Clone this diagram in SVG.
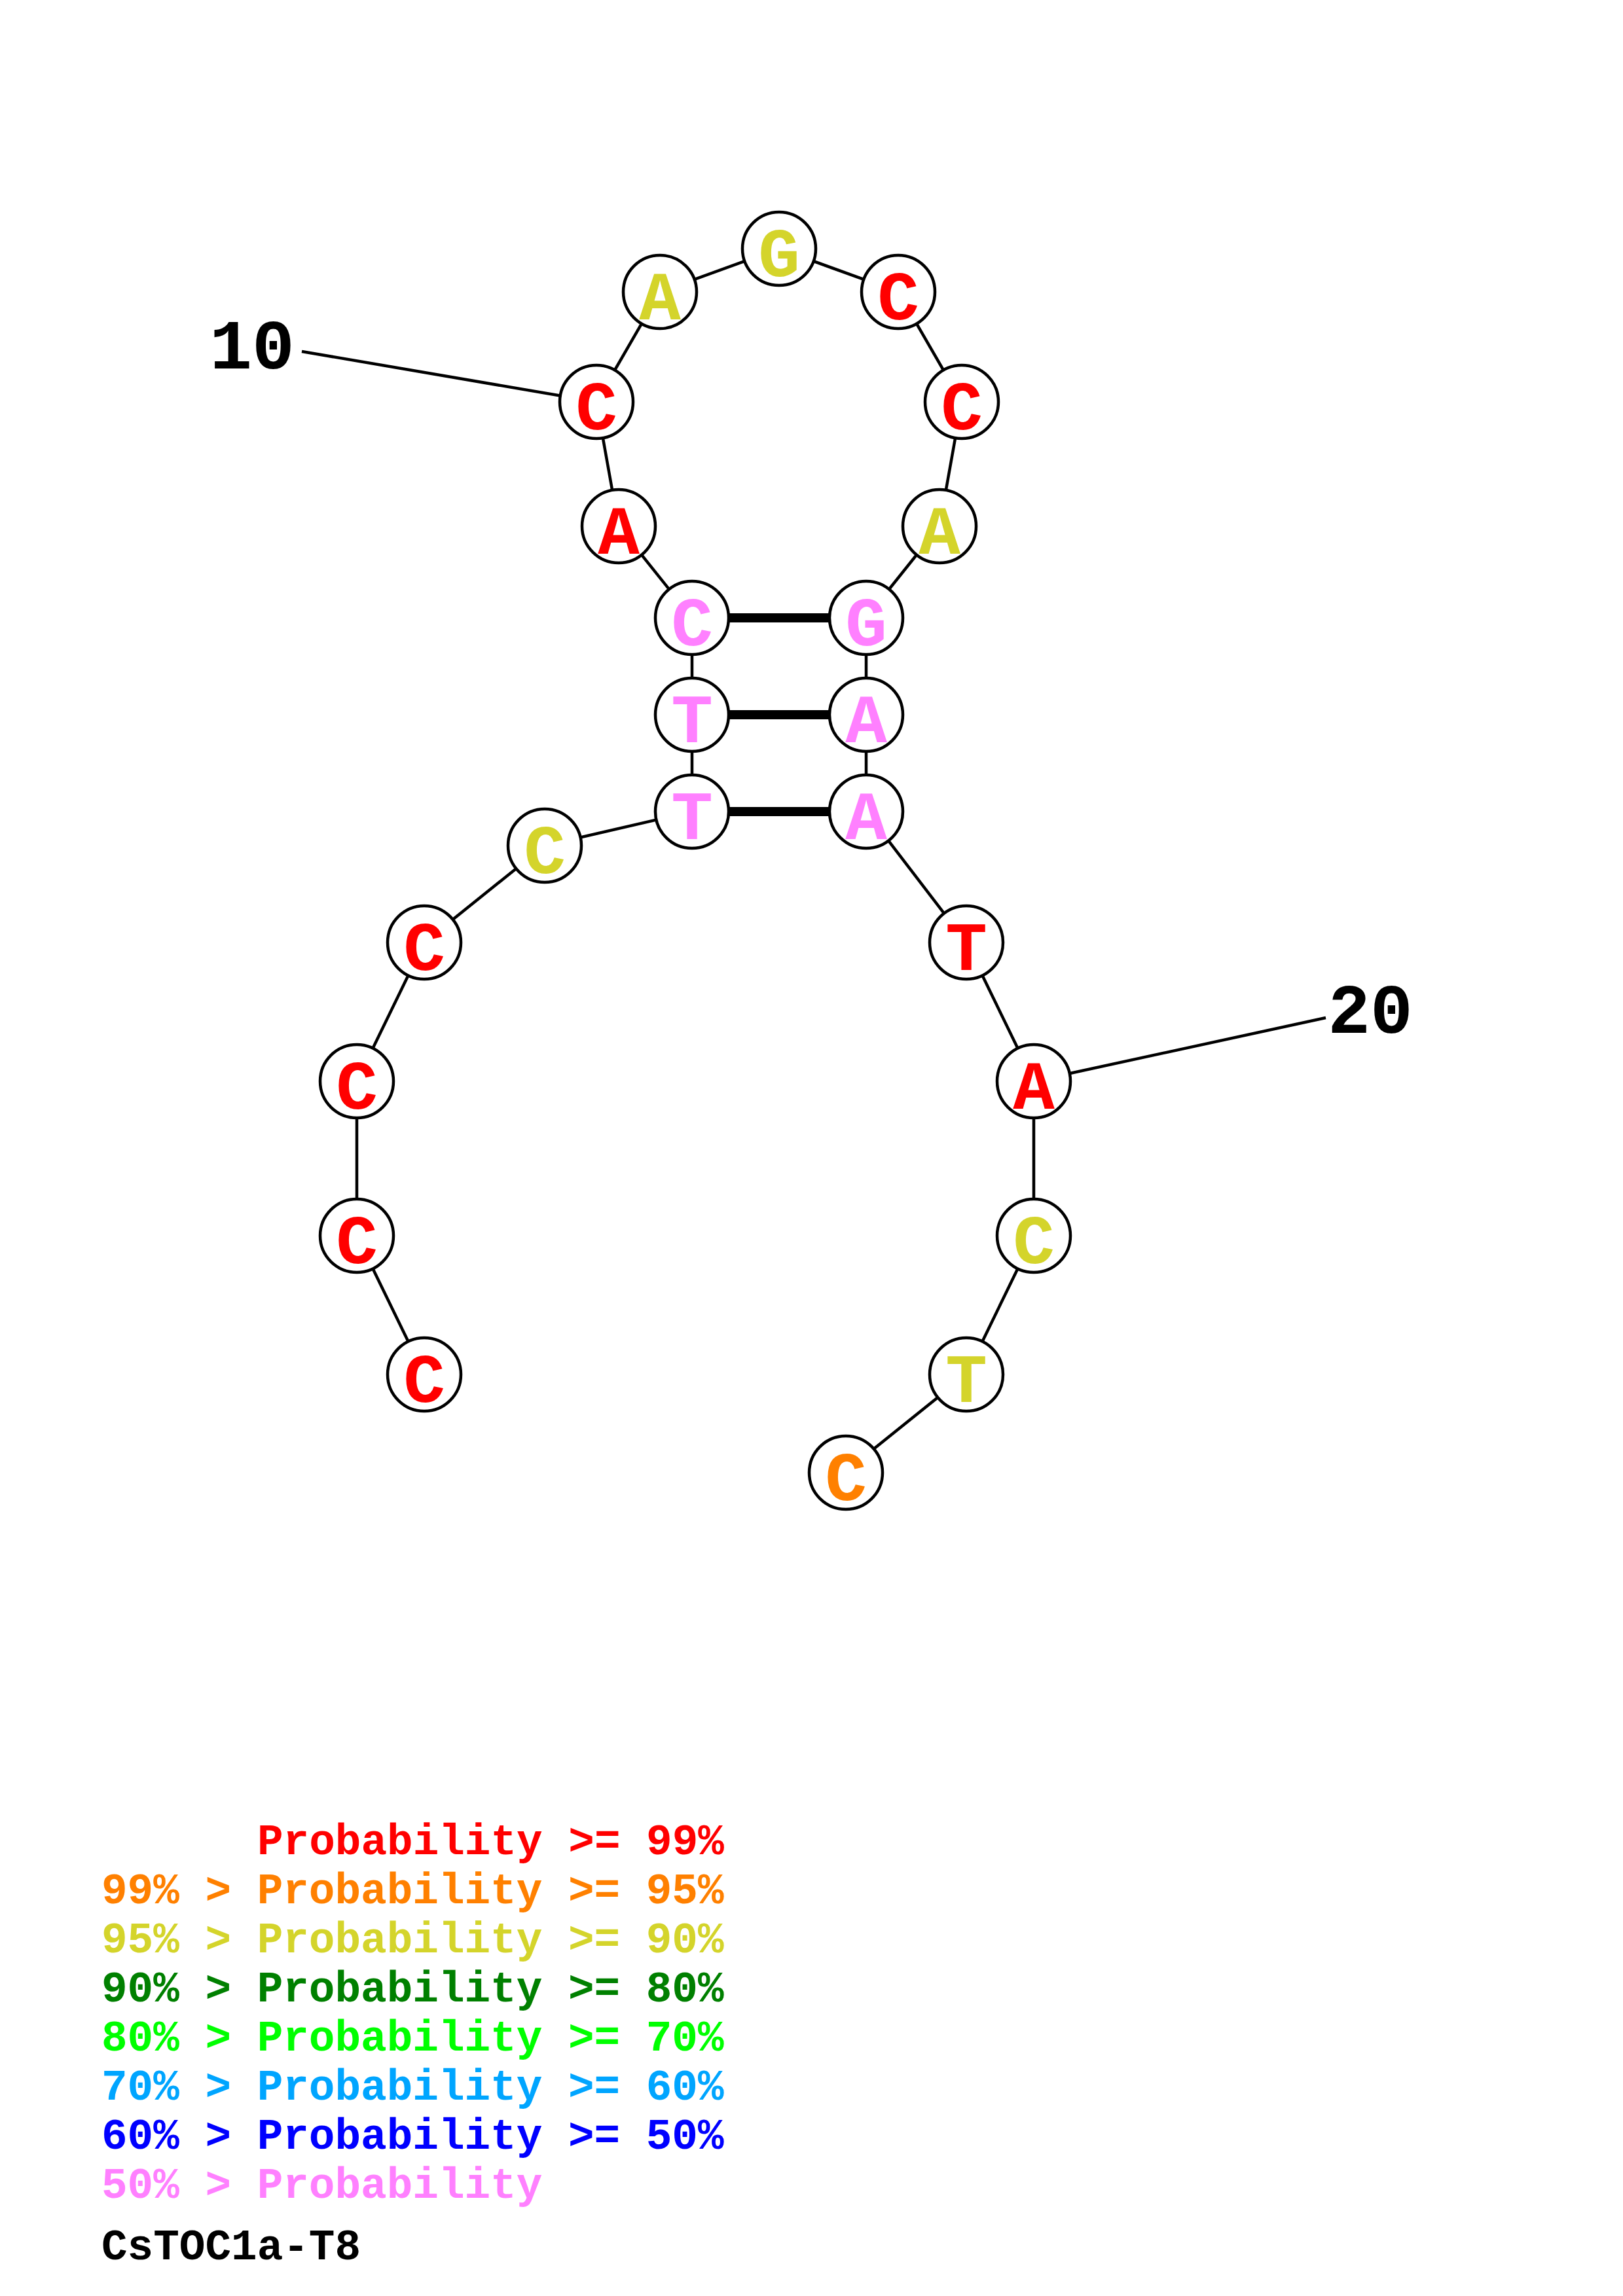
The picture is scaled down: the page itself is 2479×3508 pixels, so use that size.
<svg xmlns="http://www.w3.org/2000/svg" width="2479" height="3508" viewBox="0 0 2479 3508">
<style>
.bb{stroke:#000;stroke-width:4.5;fill:none}
.pr{stroke:#000;stroke-width:14;fill:none}
.nc{fill:#fff;stroke:#000;stroke-width:4.5}
.nt{font-family:"Liberation Mono","DejaVu Sans Mono",monospace;font-weight:bold;font-size:106px;text-anchor:middle}
.num{font-family:"Liberation Mono","DejaVu Sans Mono",monospace;font-weight:bold;font-size:108px;text-anchor:middle;fill:#000}
.lg{font-family:"Liberation Mono","DejaVu Sans Mono",monospace;font-weight:bold;font-size:66px}
.red{fill:#FF0000}.org{fill:#FF8000}.yel{fill:#D4D42B}.dgr{fill:#008000}.grn{fill:#00FF00}.lbl{fill:#00A5FF}.blu{fill:#0000FF}.pnk{fill:#FF80FF}.blk{fill:#000}
</style>
<rect width="2479" height="3508" fill="#fff"/>
<g id="connectors">
<polyline class="bb" points="648,2100 545,1888 545,1652 648,1440 832,1292 1057,1240 1057,1092 1057,944 945,804 911,614 1008,446 1190,380 1372,446 1469,614 1435,804 1323,944 1323,1092 1323,1240 1476,1440 1579,1652 1579,1888 1476,2100 1292,2248"/>
<line class="pr" x1="1057" y1="944" x2="1323" y2="944"/>
<line class="pr" x1="1057" y1="1092" x2="1323" y2="1092"/>
<line class="pr" x1="1057" y1="1240" x2="1323" y2="1240"/>
<line class="bb" x1="461" y1="537" x2="911" y2="614"/>
<line class="bb" x1="2025" y1="1555" x2="1579" y2="1652"/>
</g>
<g id="n1"><circle class="nc" cx="648" cy="2100" r="56"/><text class="nt red" x="648" y="2142">C</text></g>
<g id="n2"><circle class="nc" cx="545" cy="1888" r="56"/><text class="nt red" x="545" y="1930">C</text></g>
<g id="n3"><circle class="nc" cx="545" cy="1652" r="56"/><text class="nt red" x="545" y="1694">C</text></g>
<g id="n4"><circle class="nc" cx="648" cy="1440" r="56"/><text class="nt red" x="648" y="1482">C</text></g>
<g id="n5"><circle class="nc" cx="832" cy="1292" r="56"/><text class="nt yel" x="832" y="1334">C</text></g>
<g id="n6"><circle class="nc" cx="1057" cy="1240" r="56"/><text class="nt pnk" x="1057" y="1282">T</text></g>
<g id="n7"><circle class="nc" cx="1057" cy="1092" r="56"/><text class="nt pnk" x="1057" y="1134">T</text></g>
<g id="n8"><circle class="nc" cx="1057" cy="944" r="56"/><text class="nt pnk" x="1057" y="986">C</text></g>
<g id="n9"><circle class="nc" cx="945" cy="804" r="56"/><text class="nt red" x="945" y="846">A</text></g>
<g id="n10"><circle class="nc" cx="911" cy="614" r="56"/><text class="nt red" x="911" y="656">C</text></g>
<g id="n11"><circle class="nc" cx="1008" cy="446" r="56"/><text class="nt yel" x="1008" y="488">A</text></g>
<g id="n12"><circle class="nc" cx="1190" cy="380" r="56"/><text class="nt yel" x="1190" y="422">G</text></g>
<g id="n13"><circle class="nc" cx="1372" cy="446" r="56"/><text class="nt red" x="1372" y="488">C</text></g>
<g id="n14"><circle class="nc" cx="1469" cy="614" r="56"/><text class="nt red" x="1469" y="656">C</text></g>
<g id="n15"><circle class="nc" cx="1435" cy="804" r="56"/><text class="nt yel" x="1435" y="846">A</text></g>
<g id="n16"><circle class="nc" cx="1323" cy="944" r="56"/><text class="nt pnk" x="1323" y="986">G</text></g>
<g id="n17"><circle class="nc" cx="1323" cy="1092" r="56"/><text class="nt pnk" x="1323" y="1134">A</text></g>
<g id="n18"><circle class="nc" cx="1323" cy="1240" r="56"/><text class="nt pnk" x="1323" y="1282">A</text></g>
<g id="n19"><circle class="nc" cx="1476" cy="1440" r="56"/><text class="nt red" x="1476" y="1482">T</text></g>
<g id="n20"><circle class="nc" cx="1579" cy="1652" r="56"/><text class="nt red" x="1579" y="1694">A</text></g>
<g id="n21"><circle class="nc" cx="1579" cy="1888" r="56"/><text class="nt yel" x="1579" y="1930">C</text></g>
<g id="n22"><circle class="nc" cx="1476" cy="2100" r="56"/><text class="nt yel" x="1476" y="2142">T</text></g>
<g id="n23"><circle class="nc" cx="1292" cy="2250" r="56"/><text class="nt org" x="1292" y="2292">C</text></g>
<g id="labels">
<text class="num" x="385" y="563">10</text>
<text class="num" x="2093" y="1578">20</text>
</g>
<g id="legend">
<text class="lg red" x="393" y="2833">Probability &gt;= 99%</text>
<text class="lg org" x="155" y="2908">99% &gt; Probability &gt;= 95%</text>
<text class="lg yel" x="155" y="2983">95% &gt; Probability &gt;= 90%</text>
<text class="lg dgr" x="155" y="3058">90% &gt; Probability &gt;= 80%</text>
<text class="lg grn" x="155" y="3133">80% &gt; Probability &gt;= 70%</text>
<text class="lg lbl" x="155" y="3208">70% &gt; Probability &gt;= 60%</text>
<text class="lg blu" x="155" y="3283">60% &gt; Probability &gt;= 50%</text>
<text class="lg pnk" x="155" y="3358">50% &gt; Probability</text>
<text class="lg blk" x="155" y="3452">CsTOC1a-T8</text>
</g>
</svg>
